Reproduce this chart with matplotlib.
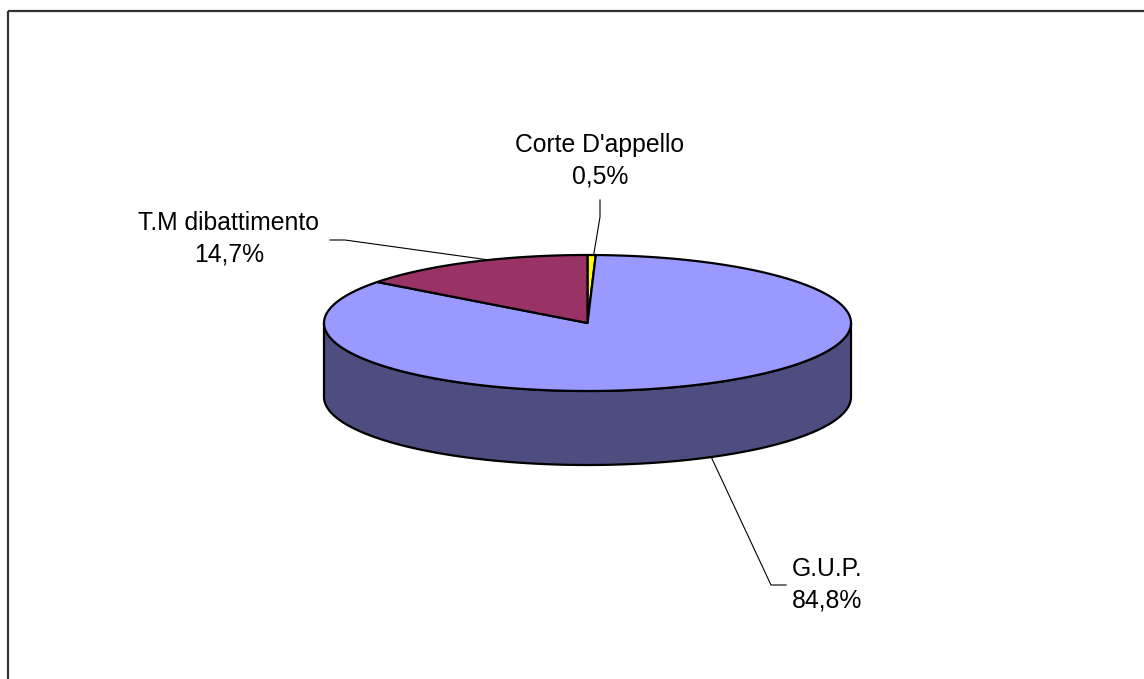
import numpy as np
import matplotlib
matplotlib.use("Agg")
import matplotlib.pyplot as plt
from matplotlib.patches import Polygon

# ---- data ----
categories = ["Corte D'appello", "G.U.P.", "T.M dibattimento"]
percent = [0.5, 84.8, 14.7]
labels = ["0,5%", "84,8%", "14,7%"]
top_colors = ["#FFFF00", "#9999FF", "#993366"]
side_colors = ["#80807F", "#4D4D80", "#4D1A33"]

W, H = 1144, 679
fig = plt.figure(figsize=(W / 100, H / 100), dpi=100)
ax = fig.add_axes([0, 0, 1, 1])
ax.set_xlim(0, W)
ax.set_ylim(H, 0)
ax.axis("off")

# frame (chart area border, cut by the image on right/bottom)
ax.plot([8, W + 5], [11, 11], color="#333333", lw=1.6, solid_capstyle="butt")
ax.plot([8, 8], [11, H + 5], color="#333333", lw=1.6, solid_capstyle="butt")

cx, cy, rx, ry, depth = 587.5, 323.0, 263.5, 68.0, 74.0


def pt(theta_deg, dy=0.0):
    t = np.radians(theta_deg)
    return cx + rx * np.cos(t), cy - ry * np.sin(t) + dy


# slice angles: start at top, go clockwise
angles = []
start = 90.0
for p in percent:
    end = start - p / 100 * 360
    angles.append((start, end))
    start = end

# side walls (visible front half: 180..360 deg)
for (a0, a1), sc in zip(angles, side_colors):
    lo, hi = min(a0, a1), max(a0, a1)
    for shift in (-360, 0, 360):
        s = max(lo + shift, 180)
        e = min(hi + shift, 360)
        if e > s:
            th = np.linspace(s, e, 200)
            xs, ys = pt(th)
            xb, yb = pt(th[::-1], depth)
            poly = Polygon(np.column_stack([np.r_[xs, xb], np.r_[ys, yb]]),
                           closed=True, facecolor=sc, edgecolor="black",
                           lw=1.6, joinstyle="round")
            ax.add_patch(poly)

# top faces
for (a0, a1), tc in zip(angles, top_colors):
    th = np.linspace(a0, a1, max(int(abs(a0 - a1)), 3) * 2)
    xs, ys = pt(th)
    poly = Polygon(np.column_stack([np.r_[cx, xs], np.r_[cy, ys]]),
                   closed=True, facecolor=tc, edgecolor="black",
                   lw=1.6, joinstyle="round")
    ax.add_patch(poly)

# labels with leader lines
font = dict(family=["Liberation Sans", "DejaVu Sans"], fontsize=17.8,
            color="black", ha="center", va="center", linespacing=1.38)
mids = [(a0 + a1) / 2 for a0, a1 in angles]

# Corte D'appello
mx, my = pt(mids[0])
ax.plot([mx + 2, 600, 600], [my, 217, 200], color="black", lw=0.8)
ax.text(600, 161, f"{categories[0]}\n{labels[0]}", **font)

# G.U.P. (leader from bottom edge of side wall)
gx, gy = pt(-62, depth)
ax.plot([gx, 771, 786], [gy, 585, 585], color="black", lw=0.8)
ax.text(827, 585, f"{categories[1]}\n{labels[1]}", **font)

# T.M dibattimento
tx, ty = pt(112)
ax.plot([tx, 345, 330], [ty, 240, 240], color="black", lw=0.8)
ax.text(229, 239, f"{categories[2]}\n{labels[2]}", **font)

fig.savefig("out.png", dpi=100)
